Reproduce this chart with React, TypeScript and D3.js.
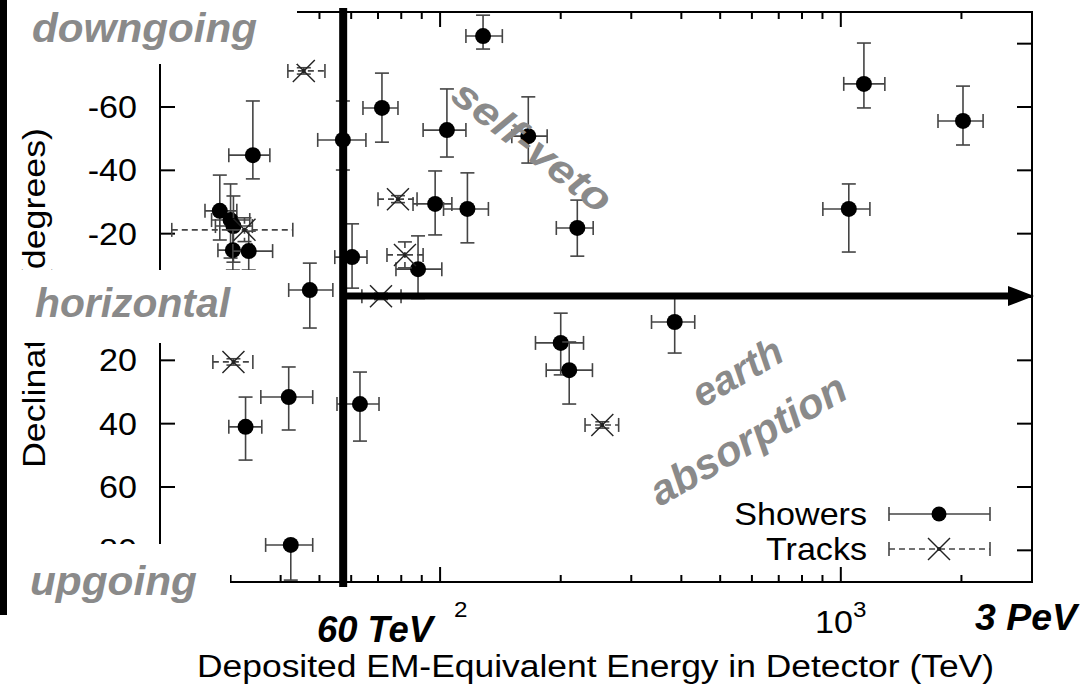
import React from 'react';
import * as d3 from 'd3';

// ---- Data (energy in TeV, declination in degrees) ----
const showerEnergy = [34.1, 28.2, 30.0, 30.5, 30.4, 33.3, 47.3, 60.3, 57.2, 128, 71.6, 104, 166, 97.2, 117, 220, 88.1, 1142, 2018, 1047, 200, 210, 385, 63.1, 41.9, 32.7, 42.4];
const showerEnergyMin = [29.7, 25.9, 26.9, 27.5, 27.9, 30.4, 41.9, 54.6, 49.5, 116, 64.2, 90.7, 151, 85.6, 102, 195, 77.6, 1017, 1748, 902, 173, 184, 337, 55.3, 35.7, 29.7, 36.7];
const showerEnergyMax = [37.6, 31.1, 33.5, 34.0, 33.9, 38.2, 54.0, 65.7, 65.3, 143, 78.5, 116, 185, 107, 132, 241, 101, 1288, 2265, 1182, 228, 240, 432, 70.4, 48.1, 35.9, 48.1];
const showerDec = [-44.8, -27.2, -24.3, -22.4, -14.8, -14.5, -2.2, -12.6, -49.6, -82.4, -59.7, -52.7, -50.8, -29.4, -27.8, -21.8, -8.8, -67.3, -55.6, -27.8, 14.5, 23.1, 7.9, 33.8, 31.6, 41.0, 78.3];
const showerDecMin = [-61.9, -38.5, -35.7, -31.9, -21.2, -20.8, -10.7, -23.1, -61.9, -89.0, -70.7, -65.7, -63.2, -39.8, -39.2, -30.6, -19.3, -80.2, -66.6, -35.7, 5.1, 14.2, -0.3, 23.7, 22.1, 31.6, 78.3];
const showerDecMax = [-37.3, -18.0, -12.3, -11.0, -8.5, -8.5, 9.8, -2.8, -40.1, -78.3, -48.9, -44.2, -42.3, -19.6, -17.1, -12.9, 0.5, -59.7, -48.0, -14.2, 24.6, 33.8, 17.7, 45.5, 42.0, 51.5, 89.4];

const trackEnergy = [45.7, 32.5, 78.5, 81.7, 71.2, 30.5, 254];
const trackEnergyMin = [41.7, 21.4, 70.0, 73.7, 63.8, 27.1, 230];
const trackEnergyMax = [51.6, 42.9, 87.6, 90.7, 79.9, 34.1, 279];
const trackDec = [-71.4, -21.2, -30.9, -13.3, -0.2, 20.5, 40.4];
const trackDecMin = [-72.4, -25.0, -32.0, -17.4, -1.2, 19.5, 39.4];
const trackDecMax = [-70.4, -17.5, -29.8, -9.2, 0.8, 21.5, 41.4];

const xMajorTicks = [100, 1000];
// the "10" of the 10^2 label is hidden under the "60 TeV" annotation in the reference
const xMajorBase = ['', '10'];
const xMajorExp = ['2', '3'];
const xMinorTicks = [30, 40, 50, 60, 70, 80, 90, 200, 300, 400, 500, 600, 700, 800, 900, 2000];
const yTicks = [-80, -60, -40, -20, 0, 20, 40, 60, 80];
// labels for -80 and 0 are hidden under the annotation boxes in the reference
const yTickLabels = ['', '-60', '-40', '-20', '', '20', '40', '60', '80'];
const legendLabels = ['Showers', 'Tracks'];
const vetoEnergy = 57.3;

const FONT = "'Liberation Sans', Arial, Helvetica, sans-serif";
const GRAY = '#8a8a8a';
const BAR = '#444';

function T(props: any) {
  const { x, y, size = 31, anchor = 'start', sx = 1.1, children, ...rest } = props;
  return (
    <text transform={`translate(${x},${y}) scale(${sx},1)`} fontSize={size} textAnchor={anchor}
      fontFamily={FONT} {...rest}>{children}</text>
  );
}

export default function App() {
  const X0 = 160, X1 = 1032, Y0 = 12, Y1 = 582;
  const x = d3.scaleLog().domain([20, 3000]).range([X0, X1]);
  const y = d3.scaleLinear().domain([-90, 90]).range([Y0, Y1]);
  const cap = 7;

  const errH = (x1: number, x2: number, yy: number, dash?: string) => (
    <g>
      <line x1={x1} x2={x2} y1={yy} y2={yy} stroke={BAR} strokeWidth={1.6} strokeDasharray={dash} />
      <line x1={x1} x2={x1} y1={yy - cap} y2={yy + cap} stroke={BAR} strokeWidth={1.6} />
      <line x1={x2} x2={x2} y1={yy - cap} y2={yy + cap} stroke={BAR} strokeWidth={1.6} />
    </g>
  );
  const errV = (xx: number, y1: number, y2: number, dash?: string, capTop = true, capBot = true) => (
    <g>
      <line x1={xx} x2={xx} y1={y1} y2={y2} stroke={BAR} strokeWidth={1.6} strokeDasharray={dash} />
      {capTop && <line x1={xx - cap} x2={xx + cap} y1={y1} y2={y1} stroke={BAR} strokeWidth={1.6} />}
      {capBot && <line x1={xx - cap} x2={xx + cap} y1={y2} y2={y2} stroke={BAR} strokeWidth={1.6} />}
    </g>
  );
  const cross = (cx: number, cy: number, s = 11) => (
    <g>
      <line x1={cx - s} x2={cx + s} y1={cy - s} y2={cy + s} stroke="#222" strokeWidth={1.4} />
      <line x1={cx - s} x2={cx + s} y1={cy + s} y2={cy - s} stroke="#222" strokeWidth={1.4} />
      <circle cx={cx} cy={cy} r={2} fill="#222" />
    </g>
  );

  const vx = x(vetoEnergy);
  const y0 = y(0) - 1;

  return (
    <svg width={1085} height={690} style={{ position: 'absolute', left: 0, top: 0, background: '#fff' }}>
      <rect x={0} y={0} width={1085} height={690} fill="#fff" />

      {/* ticks */}
      {xMinorTicks.map((t, i) => (
        <g key={'xm' + i}>
          <line x1={x(t)} x2={x(t)} y1={Y1} y2={Y1 - 7} stroke="#000" strokeWidth={2} />
          <line x1={x(t)} x2={x(t)} y1={Y0} y2={Y0 + 7} stroke="#000" strokeWidth={2} />
        </g>
      ))}
      {xMajorTicks.map((t, i) => (
        <g key={'xM' + i}>
          <line x1={x(t)} x2={x(t)} y1={Y1} y2={Y1 - 15} stroke="#000" strokeWidth={2} />
          <line x1={x(t)} x2={x(t)} y1={Y0} y2={Y0 + 15} stroke="#000" strokeWidth={2} />
          {xMajorBase[i]
            ? <T x={x(t)} y={633} anchor="middle">{xMajorBase[i]}<tspan fontSize={22} dy={-16}>{xMajorExp[i]}</tspan></T>
            : <T x={x(t) + 14} y={617} size={22} anchor="start">{xMajorExp[i]}</T>}
        </g>
      ))}
      {yTicks.map((t, i) => (
        <g key={'y' + i}>
          <line x1={X0} x2={X0 + 15} y1={y(t)} y2={y(t)} stroke="#000" strokeWidth={2} />
          <line x1={X1} x2={X1 - 15} y1={y(t)} y2={y(t)} stroke="#000" strokeWidth={2} />
          {yTickLabels[i] && <T x={137} y={y(t) + 11} anchor="end">{yTickLabels[i]}</T>}
        </g>
      ))}
      <rect x={X0} y={Y0} width={X1 - X0} height={Y1 - Y0} fill="none" stroke="#000" strokeWidth={2} />

      {/* axis titles */}
      <text x={197} y={677} fontSize={31} fontFamily={FONT} textLength={797} lengthAdjust="spacingAndGlyphs">
        Deposited EM-Equivalent Energy in Detector (TeV)
      </text>
      <text transform={`translate(45,298) rotate(-90)`} fontSize={31} fontFamily={FONT} textAnchor="middle"
        textLength={340} lengthAdjust="spacingAndGlyphs">Declination (degrees)</text>

      {/* showers */}
      {showerEnergy.map((e, i) => {
        const cx = x(e), cy = y(showerDec[i]);
        return (
          <g key={'s' + i}>
            {errH(x(showerEnergyMin[i]), x(showerEnergyMax[i]), cy)}
            {errV(cx, y(showerDecMin[i]), y(showerDecMax[i]), undefined, showerDecMin[i] !== showerDec[i], true)}
            <circle cx={cx} cy={cy} r={8} fill="#000" />
          </g>
        );
      })}
      {/* tracks */}
      {trackEnergy.map((e, i) => {
        const cx = x(e), cy = y(trackDec[i]);
        return (
          <g key={'t' + i}>
            {errH(x(trackEnergyMin[i]), x(trackEnergyMax[i]), cy, '6,4')}
            {errV(cx, y(trackDecMin[i]), y(trackDecMax[i]), '6,4')}
            {cross(cx, cy)}
          </g>
        );
      })}

      {/* legend */}
      <T x={867} y={525} anchor="end">{legendLabels[0]}</T>
      <T x={867} y={560} anchor="end">{legendLabels[1]}</T>
      {errH(889, 990, 514)}
      <circle cx={939} cy={514} r={7.5} fill="#000" />
      {errH(889, 990, 549, '6,4')}
      {cross(939, 549)}

      {/* thick lines */}
      <line x1={vx} x2={vx} y1={8} y2={587} stroke="#000" strokeWidth={8} />
      <line x1={vx} x2={1012} y1={y0} y2={y0} stroke="#000" strokeWidth={7} />
      <polygon points={`1034,${y0} 1008,${y0 - 10} 1008,${y0 + 10}`} fill="#000" />

      {/* overlay boxes */}
      <rect x={0} y={0} width={7} height={615} fill="#000" />
      <rect x={7} y={0} width={290} height={64} fill="#fff" />
      <rect x={7} y={270} width={275} height={73} fill="#fff" />
      <rect x={7} y={544} width={223} height={71} fill="#fff" />
      <rect x={300} y={590} width={152} height={62} fill="#fff" />
      <rect x={953} y={583.5} width={132} height={60} fill="#fff" />

      <g fontFamily={FONT} fontWeight="bold" fontStyle="italic" fill={GRAY} fontSize={40}>
        <text x={32} y={42} textLength={225} lengthAdjust="spacingAndGlyphs">downgoing</text>
        <text x={35} y={317} textLength={195} lengthAdjust="spacingAndGlyphs">horizontal</text>
        <text x={30} y={595} textLength={167} lengthAdjust="spacingAndGlyphs">upgoing</text>
        <text transform="translate(524,157) rotate(37.6)" textAnchor="middle" textLength={190} lengthAdjust="spacingAndGlyphs">self-veto</text>
        <text transform="translate(744,384) rotate(-30)" textAnchor="middle" textLength={98} lengthAdjust="spacingAndGlyphs">earth</text>
        <text fontSize={42} transform="translate(755,452) rotate(-30)" textAnchor="middle" textLength={220} lengthAdjust="spacingAndGlyphs">absorption</text>
      </g>
      <g fontFamily={FONT} fontWeight="bold" fontStyle="italic" fill="#000" fontSize={36}>
        <text x={317} y={642} textLength={116} lengthAdjust="spacingAndGlyphs">60 TeV</text>
        <text x={975} y={630} textLength={102} lengthAdjust="spacingAndGlyphs">3 PeV</text>
      </g>
    </svg>
  );
}
